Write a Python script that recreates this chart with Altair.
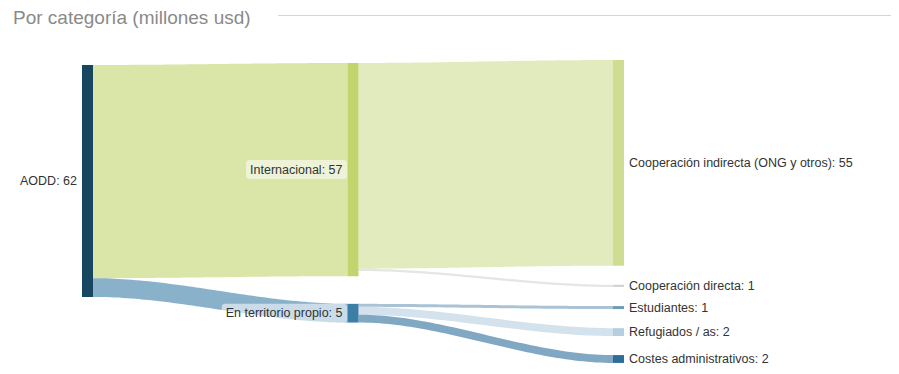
import altair as alt
import pandas as pd
import numpy as np

# ---------------- data ----------------
node_names = ["AODD", "Internacional", "En territorio propio",
              "Cooperación indirecta (ONG y otros)", "Cooperación directa",
              "Estudiantes", "Refugiados / as", "Costes administrativos"]
node_columns = [0, 1, 1, 2, 2, 2, 2, 2]
node_colors = ["#164660", "#c2d46e", "#3b7ea6", "#cfdd92", "#d3d3d3",
               "#6f9ab8", "#b5cfdf", "#2d6e99"]

link_sources = ["AODD", "AODD", "Internacional", "Internacional",
                "En territorio propio", "En territorio propio", "En territorio propio"]
link_targets = ["Internacional", "En territorio propio",
                "Cooperación indirecta (ONG y otros)", "Cooperación directa",
                "Estudiantes", "Refugiados / as", "Costes administrativos"]
link_values = [57, 5, 55, 0.6, 0.8, 2.1, 2.1]

title_text = "Por categoría (millones usd)"

# ---------------- layout parameters ----------------
W, H = 883, 358
PX_PER_COL = 265.5
COL0_PX = 74.0
PX_PER_UNIT = 3.74
NODE_W = 11 / PX_PER_COL
COL_TOP = [15.24, 14.7, 13.9]   # value units from top
COL_PAD = [0.0, 7.4, 5.1]       # value units between nodes
CURVE = 0.33
FONT = "Liberation Sans"
FS = 12.5

x_domain = [-COL0_PX / PX_PER_COL, (W - COL0_PX) / PX_PER_COL]
y_domain = [0, H / PX_PER_UNIT]

# node sizes
size_in = {n: 0.0 for n in node_names}
size_out = {n: 0.0 for n in node_names}
for s, t, v in zip(link_sources, link_targets, link_values):
    size_out[s] += v
    size_in[t] += v
node_size = {n: max(size_in[n], size_out[n]) for n in node_names}

# node positions
node_top = {}
cursor = list(COL_TOP)
for n, c in zip(node_names, node_columns):
    node_top[n] = cursor[c]
    cursor[c] += node_size[n] + COL_PAD[c]

nodes = pd.DataFrame({
    "name": node_names,
    "col": node_columns,
    "color": node_colors,
})
nodes["x"] = nodes["col"].astype(float)
nodes["x2"] = nodes["x"] + NODE_W
nodes["y"] = [node_top[n] for n in node_names]
nodes["y2"] = [node_top[n] + node_size[n] for n in node_names]
nodes["ym"] = (nodes["y"] + nodes["y2"]) / 2
nodes["label"] = [f"{n}: {int(round(node_size[n]))}" for n in node_names]

# links
col_of = dict(zip(node_names, node_columns))
color_of = dict(zip(node_names, node_colors))
out_off = {n: 0.0 for n in node_names}
in_off = {n: 0.0 for n in node_names}
rows = []
ts = np.linspace(0, 1, 60)
for i, (s, t, v) in enumerate(zip(link_sources, link_targets, link_values)):
    x0 = col_of[s] + NODE_W
    x1 = float(col_of[t])
    c = (x1 - x0) * CURVE
    ys = node_top[s] + out_off[s]
    yt = node_top[t] + in_off[t]
    out_off[s] += v
    in_off[t] += v
    for tt in ts:
        b0, b1, b2, b3 = (1 - tt) ** 3, 3 * (1 - tt) ** 2 * tt, 3 * (1 - tt) * tt ** 2, tt ** 3
        xx = b0 * x0 + b1 * (x0 + c) + b2 * (x1 - c) + b3 * x1
        ytop = (b0 + b1) * ys + (b2 + b3) * yt
        rows.append({"link": f"L{i}", "lx": xx, "ly": ytop, "ly2": ytop + v,
                     "lcolor": color_of[t]})
links = pd.DataFrame(rows)

# label background boxes (column 1)
AW = {c: 0.556 for c in "abdeghnopqu0123456789"}
AW.update({"c": 0.5, "k": 0.5, "s": 0.5, "v": 0.5, "x": 0.5, "y": 0.5, "z": 0.5,
           "f": 0.278, "t": 0.278, "i": 0.222, "j": 0.222, "l": 0.222, "r": 0.333,
           "m": 0.833, "w": 0.722, " ": 0.278, ":": 0.278, "(": 0.333, ")": 0.333,
           "/": 0.278, "ó": 0.556, "í": 0.278, "I": 0.278, "E": 0.667, "A": 0.667,
           "O": 0.778, "D": 0.722, "C": 0.722, "N": 0.722, "G": 0.778, "R": 0.722})


def text_px(s):
    return sum(AW.get(ch, 0.6) for ch in s) * FS


mid = nodes[nodes["col"] == 1].copy()
mid["bx2"] = mid["x"] - 0.5 / PX_PER_COL
mid["bx"] = mid["x"] - (mid["label"].map(text_px) + 9) / PX_PER_COL
mid["by"] = mid["ym"] - 9.5 / PX_PER_UNIT
mid["by2"] = mid["ym"] + 9.5 / PX_PER_UNIT

xs = alt.Scale(domain=x_domain, nice=False, zero=False)
ysc = alt.Scale(domain=y_domain, reverse=True, nice=False, zero=False)

link_layers = []
for lid in links["link"].unique():
    sub = links[links["link"] == lid]
    link_layers.append(
        alt.Chart(sub).mark_area(opacity=0.6, interpolate="linear",
                                 color=sub["lcolor"].iloc[0], orient="vertical").encode(
            x=alt.X("lx:Q", scale=xs, axis=None),
            y=alt.Y("ly:Q", scale=ysc, axis=None, stack=None),
            y2="ly2:Q",
        )
    )

node_layer = alt.Chart(nodes).mark_rect().encode(
    x=alt.X("x:Q", scale=xs, axis=None), x2="x2:Q",
    y=alt.Y("y:Q", scale=ysc, axis=None), y2="y2:Q",
    color=alt.Color("color:N", scale=None),
)

box_layer = alt.Chart(mid).mark_rect(color="white", opacity=0.55, cornerRadius=3).encode(
    x=alt.X("bx:Q", scale=xs, axis=None), x2="bx2:Q",
    y=alt.Y("by:Q", scale=ysc, axis=None), y2="by2:Q",
)

left_labels = alt.Chart(nodes[nodes["col"] < 2]).mark_text(
    align="right", baseline="middle", dx=-5, font=FONT, fontSize=FS, color="#333333"
).encode(
    x=alt.X("x:Q", scale=xs, axis=None),
    y=alt.Y("ym:Q", scale=ysc, axis=None),
    text="label:N",
)

right_labels = alt.Chart(nodes[nodes["col"] == 2]).mark_text(
    align="left", baseline="middle", dx=5, font=FONT, fontSize=FS, color="#333333"
).encode(
    x=alt.X("x2:Q", scale=xs, axis=None),
    y=alt.Y("ym:Q", scale=ysc, axis=None),
    text="label:N",
)

title_layer = alt.Chart(pd.DataFrame({"t": [title_text]})).mark_text(
    align="left", baseline="alphabetic", font=FONT, fontSize=19, color="#8a8a8a"
).encode(x=alt.value(5), y=alt.value(15.5), text="t:N")

rule_layer = alt.Chart(pd.DataFrame({"a": [0]})).mark_rule(
    color="#d4d4d4", strokeWidth=1
).encode(x=alt.value(270), x2=alt.value(885), y=alt.value(7.5))

chart = alt.layer(
    *link_layers, node_layer, box_layer, left_labels, right_labels, title_layer, rule_layer
).properties(
    width=W, height=H,
    autosize=alt.AutoSizeParams(type="none"),
    padding=0,
).configure_view(stroke=None)

chart.save("out.html", embed_options={"renderer": "svg", "actions": False})
